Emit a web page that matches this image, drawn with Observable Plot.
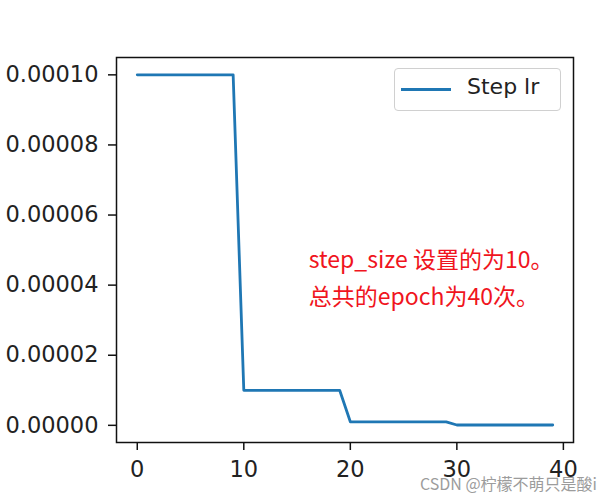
<!DOCTYPE html>
<html>
<head>
<meta charset="utf-8">
<script src="https://cdn.jsdelivr.net/npm/d3@7"></script>
<script src="https://cdn.jsdelivr.net/npm/@observablehq/plot@0.6"></script>
<style>
  html, body { margin: 0; padding: 0; background: white; }
  #wrap { position: relative; width: 612px; height: 500px; overflow: hidden; }
  #legend { position: absolute; left: 394px; top: 68px; width: 167px; height: 43px;
    border: 1px solid #d0d0d0; border-radius: 4px; background: white; box-sizing: border-box; }
  #legend .swatch { position: absolute; left: 6px; top: 19px; width: 50px; height: 0; border-top: 3px solid #1f77b4; }
  #legend .lab { position: absolute; left: 72px; top: 5px; font: 22px "DejaVu Sans", sans-serif; color: #222; }
  #wm { position: absolute; left: 420px; top: 471px; font: 16px "Noto Sans CJK SC", sans-serif; color: #9c9c9c; white-space: nowrap; }
</style>
</head>
<body>
<div id="wrap">
  <div id="chart"></div>
  <div id="legend"><div class="swatch"></div><div class="lab"></div></div>
  <div id="wm"></div>
</div>
<script>
// Data
const epochs = [0,1,2,3,4,5,6,7,8,9,10,11,12,13,14,15,16,17,18,19,20,21,22,23,24,25,26,27,28,29,30,31,32,33,34,35,36,37,38,39];
const lrValues = [
  1e-4,1e-4,1e-4,1e-4,1e-4,1e-4,1e-4,1e-4,1e-4,1e-4,
  1e-5,1e-5,1e-5,1e-5,1e-5,1e-5,1e-5,1e-5,1e-5,1e-5,
  1e-6,1e-6,1e-6,1e-6,1e-6,1e-6,1e-6,1e-6,1e-6,1e-6,
  1e-7,1e-7,1e-7,1e-7,1e-7,1e-7,1e-7,1e-7,1e-7,1e-7
];
const seriesName = "Step lr";
const xTicks = [0, 10, 20, 30, 40];
const yTicks = [0, 0.00002, 0.00004, 0.00006, 0.00008, 0.0001];
const annoText = ["step_size 设置的为10。", "总共的epoch为40次。"];
const annoX = [16.1, 16.1];
const annoY = [0.0000469, 0.0000364];
const watermark = "CSDN @柠檬不萌只是酸i";

const data = epochs.map((e, i) => ({epoch: e, lr: lrValues[i]}));
const anno = annoText.map((t, i) => ({text: t, x: annoX[i], y: annoY[i]}));

const chart = Plot.plot({
  width: 612,
  height: 500,
  marginLeft: 116,
  marginRight: 39,
  marginTop: 57,
  marginBottom: 58,
  style: {fontFamily: "DejaVu Sans, sans-serif", fontSize: "22px", color: "#222", background: "white"},
  x: {domain: [-1.95, 40.95]},
  y: {domain: [-0.0000049, 0.00010495]},
  marks: [
    Plot.line(data, {x: "epoch", y: "lr", stroke: "#1f77b4", strokeWidth: 2.8, strokeLinejoin: "round"}),
    Plot.frame({stroke: "#111", strokeWidth: 1.5}),
    Plot.axisX({ticks: xTicks, tickSize: 8, tickPadding: 11, tickFormat: d => String(d), label: null, strokeWidth: 1.5, stroke: "#111", fontSize: 22.5}),
    Plot.axisY({ticks: yTicks, tickSize: 8, tickPadding: 10, tickFormat: d => d.toFixed(5), label: null, strokeWidth: 1.5, stroke: "#111", fontSize: 22.5}),
    Plot.text(anno, {x: "x", y: "y", text: "text", textAnchor: "start", lineAnchor: "middle", fill: "#f01420", fontSize: 23, fontFamily: "Noto Sans CJK SC, sans-serif"})
  ]
});
document.getElementById("chart").appendChild(chart);
document.querySelector("#legend .lab").textContent = seriesName;
document.getElementById("wm").textContent = watermark;
</script>
</body>
</html>
